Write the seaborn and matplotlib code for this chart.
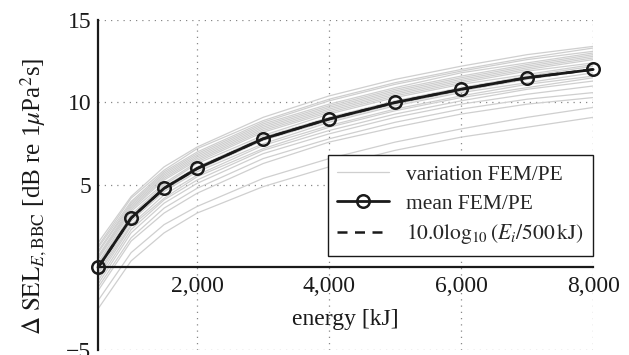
import pandas as pd
import matplotlib
matplotlib.use("Agg")
import matplotlib.pyplot as plt
import seaborn as sns

# energies of the simulated cases [kJ]
energy = [500, 1000, 1500, 2000, 3000, 4000, 5000, 6000, 7000, 8000]

# mean FEM/PE curve and the reference slope
mean_sel = [0.0, 3.0, 4.8, 6.0, 7.8, 9.0, 10.0, 10.8, 11.5, 12.0]
ref_sel = [0.0, 3.0, 4.8, 6.0, 7.8, 9.0, 10.0, 10.8, 11.5, 12.0]

# individual FEM/PE variations (one list per run)
variations = [
    [1.5, 4.3, 6.1, 7.3, 9.1, 10.4, 11.4, 12.2, 12.9, 13.4],
    [1.3, 4.2, 5.9, 7.2, 8.9, 10.2, 11.2, 12.0, 12.7, 13.3],
    [1.2, 4.0, 5.8, 7.0, 8.8, 10.1, 11.1, 11.9, 12.6, 13.1],
    [1.0, 3.9, 5.7, 6.9, 8.7, 9.9, 10.9, 11.8, 12.4, 13.0],
    [0.9, 3.8, 5.6, 6.8, 8.6, 9.8, 10.8, 11.6, 12.3, 12.9],
    [0.7, 3.7, 5.5, 6.7, 8.5, 9.7, 10.7, 11.5, 12.2, 12.8],
    [0.6, 3.6, 5.4, 6.6, 8.4, 9.6, 10.6, 11.4, 12.1, 12.7],
    [0.5, 3.5, 5.3, 6.5, 8.3, 9.5, 10.5, 11.3, 12.0, 12.6],
    [0.3, 3.4, 5.1, 6.4, 8.2, 9.4, 10.4, 11.2, 11.9, 12.4],
    [0.2, 3.2, 5.0, 6.3, 8.0, 9.3, 10.3, 11.1, 11.7, 12.3],
    [0.0, 3.1, 4.9, 6.1, 7.9, 9.1, 10.1, 10.9, 11.6, 12.2],
    [-0.1, 2.9, 4.7, 5.9, 7.7, 8.9, 9.9, 10.7, 11.4, 12.0],
    [-0.3, 2.8, 4.6, 5.8, 7.5, 8.8, 9.8, 10.6, 11.2, 11.8],
    [-0.4, 2.6, 4.4, 5.6, 7.4, 8.6, 9.6, 10.4, 11.1, 11.6],
    [-0.6, 2.5, 4.2, 5.5, 7.2, 8.5, 9.5, 10.3, 10.9, 11.5],
    [-0.8, 2.3, 4.1, 5.3, 7.1, 8.3, 9.3, 10.1, 10.8, 11.3],
    [-1.0, 2.1, 3.9, 5.1, 6.9, 8.1, 9.1, 9.9, 10.5, 11.0],
    [-1.2, 1.8, 3.6, 4.8, 6.6, 7.8, 8.8, 9.6, 10.2, 10.6],
    [-1.4, 1.6, 3.3, 4.5, 6.3, 7.6, 8.5, 9.3, 9.9, 10.3],
    [-2.0, 0.9, 2.6, 3.7, 5.4, 6.6, 7.6, 8.4, 9.1, 9.7],
    [-2.5, 0.4, 2.1, 3.3, 4.9, 6.1, 7.1, 7.9, 8.5, 9.1],
]

x_ticks = [2000, 4000, 6000, 8000]
x_ticklabels = ["2,000", "4,000", "6,000", "8,000"]
y_ticks = [-5, 5, 10, 15]
y_ticklabels = ["\u22125", "5", "10", "15"]

sns.set_style("white")
plt.rcParams["font.family"] = ["Liberation Serif", "DejaVu Serif"]
plt.rcParams["mathtext.fontset"] = "stix"

# long-form table for the grey runs
rows = []
for run, vals in enumerate(variations):
    for e, v in zip(energy, vals):
        rows.append({"run": run, "energy": e, "sel": v})
df_var = pd.DataFrame(rows)
df_mean = pd.DataFrame({"energy": energy, "mean": mean_sel, "ref": ref_sel})

fig = plt.figure(figsize=(6.29, 3.55), dpi=100)
ax = fig.add_axes([0.156, 0.0141, 0.787, 0.9296])

sns.lineplot(data=df_var, x="energy", y="sel", units="run", estimator=None,
             color="#cfcfcf", linewidth=0.9, ax=ax, legend=False)
sns.lineplot(data=df_mean, x="energy", y="ref", color="#1a1a1a",
             linestyle=(0, (4, 3)), linewidth=1.8, ax=ax, legend=False)
sns.lineplot(data=df_mean, x="energy", y="mean", color="#1a1a1a", linewidth=2.0,
             marker="o", markersize=9, markerfacecolor="none",
             markeredgecolor="#1a1a1a", markeredgewidth=1.8, ax=ax,
             legend=False, clip_on=False, zorder=5)

ax.set_xlim(500, 8000)
ax.set_ylim(-5, 15)
ax.set_xticks(x_ticks)
ax.set_xticklabels(x_ticklabels)
ax.set_yticks(y_ticks)
ax.set_yticklabels(y_ticklabels)

ax.grid(True, linestyle=(0, (1, 4)), color="#888888", linewidth=0.9)
ax.spines["top"].set_visible(False)
ax.spines["right"].set_visible(False)
ax.spines["bottom"].set_position(("data", 0))
for s in ("left", "bottom"):
    ax.spines[s].set_color("#1a1a1a")
    ax.spines[s].set_linewidth(1.6)
ax.tick_params(axis="both", direction="in", length=4, width=1.0,
               labelsize=17, colors="#1a1a1a")
ax.tick_params(axis="x", pad=6)
ax.tick_params(axis="y", pad=5)

ax.set_xlabel("energy [kJ]", fontsize=17, color="#1a1a1a")
ax.xaxis.set_label_coords(0.5, 0.125)
ax.set_ylabel(r"$\Delta\ \mathrm{SEL}_{E,\mathrm{BBC}}$ [dB re 1$\mu$Pa$^2$s]",
              fontsize=18, color="#1a1a1a")
ax.yaxis.set_label_coords(-0.099, 0.465)

handles = [
    plt.Line2D([], [], color="#cfcfcf", linewidth=0.9),
    plt.Line2D([], [], color="#1a1a1a", linewidth=2.0, marker="o", markersize=9,
               markerfacecolor="none", markeredgewidth=1.8),
    plt.Line2D([], [], color="#1a1a1a", linewidth=1.8, linestyle=(0, (4, 3))),
]
labels = ["variation FEM/PE", "mean FEM/PE",
          r"$10.0\log_{10}(E_i/500\,\mathrm{kJ})$"]
leg = ax.legend(handles, labels, loc="lower right", bbox_to_anchor=(1.0, 0.285),
                borderaxespad=0, fontsize=15.5, frameon=True, fancybox=False,
                framealpha=1, edgecolor="#1a1a1a", borderpad=0.45,
                handlelength=2.4, labelspacing=0.4)
leg.get_frame().set_linewidth(1.0)

fig.savefig("out.png", dpi=100)
